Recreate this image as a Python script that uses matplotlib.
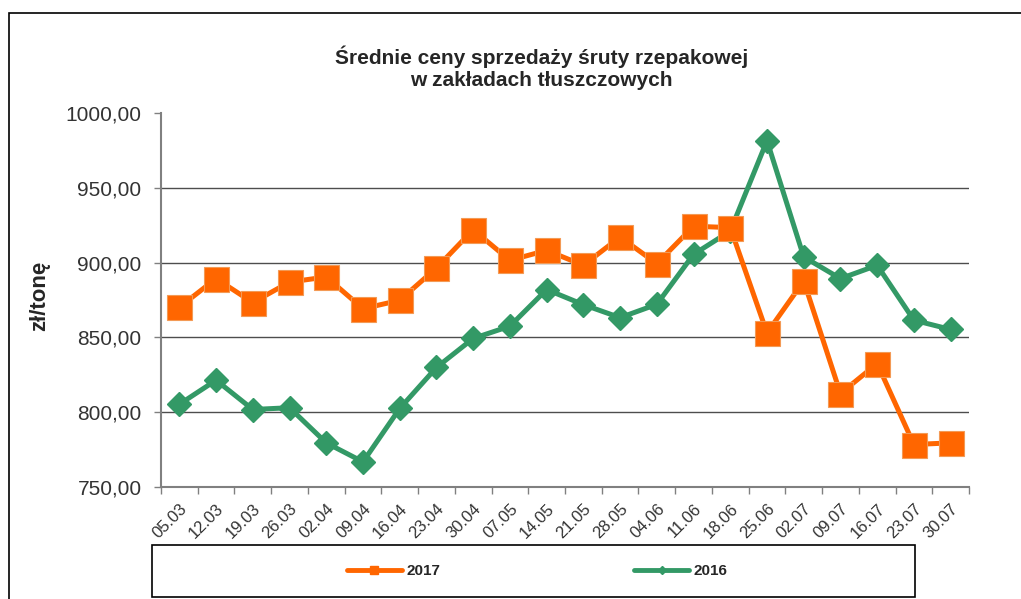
import matplotlib
matplotlib.use('Agg')
import matplotlib.pyplot as plt
from matplotlib.lines import Line2D
from matplotlib.patches import Rectangle

plt.rcParams['font.family'] = ['Liberation Sans', 'DejaVu Sans']

# dane
tygodnie = ['05.03', '12.03', '19.03', '26.03', '02.04', '09.04', '16.04', '23.04',
            '30.04', '07.05', '14.05', '21.05', '28.05', '04.06', '11.06', '18.06',
            '25.06', '02.07', '09.07', '16.07', '23.07', '30.07']
ceny_2017 = [870.2, 889.3, 873.3, 887.0, 890.4, 869.2, 874.8, 896.4, 922.0, 901.5, 908.2,
             898.2, 917.1, 899.3, 924.3, 923.4, 853.0, 887.7, 812.5, 832.5, 778.4, 779.5]
ceny_2016 = [805.3, 821.4, 801.8, 803.0, 779.5, 766.8, 802.5, 829.9, 849.3, 857.5, 882.0,
             871.9, 863.2, 872.1, 905.5, 921.1, 981.5, 903.8, 889.3, 898.2, 861.5, 855.3]
y_ticks = [750, 800, 850, 900, 950, 1000]

POMARANCZ = '#FF6600'
ZIELEN = '#339966'
TEKST = '#333333'

fig = plt.figure(figsize=(10.21, 5.99), dpi=100)
ax = fig.add_axes([161 / 1021, 1 - 487 / 599, 808 / 1021, 374 / 599])

x = list(range(len(tygodnie)))
ax.plot(x, ceny_2016, color=ZIELEN, lw=3.6, marker='D', markersize=12.5,
        markerfacecolor=ZIELEN, markeredgecolor=ZIELEN, zorder=3)
ax.plot(x, ceny_2017, color=POMARANCZ, lw=3.6, marker='s', markersize=18,
        markerfacecolor=POMARANCZ, markeredgecolor='#f39a55', markeredgewidth=0.8, zorder=4)

ax.set_xlim(-0.5, len(tygodnie) - 0.5)
ax.set_ylim(750, 1000)

# siatka
for v in y_ticks[1:-1]:
    ax.axhline(v, color='#4d4d4d', lw=1.0, zorder=1)

ax.set_yticks(y_ticks)
ax.set_yticklabels([f'{v:.2f}'.replace('.', ',') for v in y_ticks], fontsize=15, color=TEKST)
ax.tick_params(axis='y', length=5, width=1, color='#808080', pad=9)

ax.set_xticks(x)
ax.set_xticklabels(tygodnie, rotation=45, ha='right', va='top', rotation_mode='anchor',
                   fontsize=12, color=TEKST)
ax.tick_params(axis='x', which='major', length=0, pad=10)
ax.set_xticks([i - 0.5 for i in range(len(tygodnie) + 1)], minor=True)
ax.tick_params(axis='x', which='minor', length=5, width=1, color='#808080')

for s in ['top', 'right']:
    ax.spines[s].set_visible(False)
for s in ['left', 'bottom']:
    ax.spines[s].set_color('#808080')
    ax.spines[s].set_linewidth(1.5)

fig.text(0.53, 1 - 68 / 599, 'Średnie ceny sprzedaży śruty rzepakowej\nw zakładach tłuszczowych',
         ha='center', va='center', fontsize=15, fontweight='bold', color='#262626',
         linespacing=1.2)
fig.text(40 / 1021, 1 - 296 / 599, 'zł/tonę', rotation=90, ha='center', va='center',
         fontsize=16, fontweight='bold', color='#262626')

# ramka wykresu
fig.patches.append(Rectangle((9 / 1021, -0.2), 1.2, 1.2 - 13 / 599, transform=fig.transFigure,
                             fill=False, edgecolor='black', lw=1.2))
# ramka legendy
fig.patches.append(Rectangle((152 / 1021, 1 - 597 / 599), 763 / 1021, 52 / 599,
                             transform=fig.transFigure, fill=False, edgecolor='black', lw=1.2))

uchwyty = [Line2D([], [], color=POMARANCZ, lw=3.5, marker='s', markersize=6, solid_capstyle='round'),
           Line2D([], [], color=ZIELEN, lw=3.5, marker='D', markersize=4, solid_capstyle='round')]
fig.legend(uchwyty, ['2017', '2016'], loc='center', bbox_to_anchor=(537 / 1021, 1 - 571 / 599),
           ncol=2, frameon=False, handlelength=3.6, handletextpad=0.3, columnspacing=12.7,
           prop={'weight': 'bold', 'size': 11}, labelcolor='#262626')

fig.savefig('out.png', dpi=100)
